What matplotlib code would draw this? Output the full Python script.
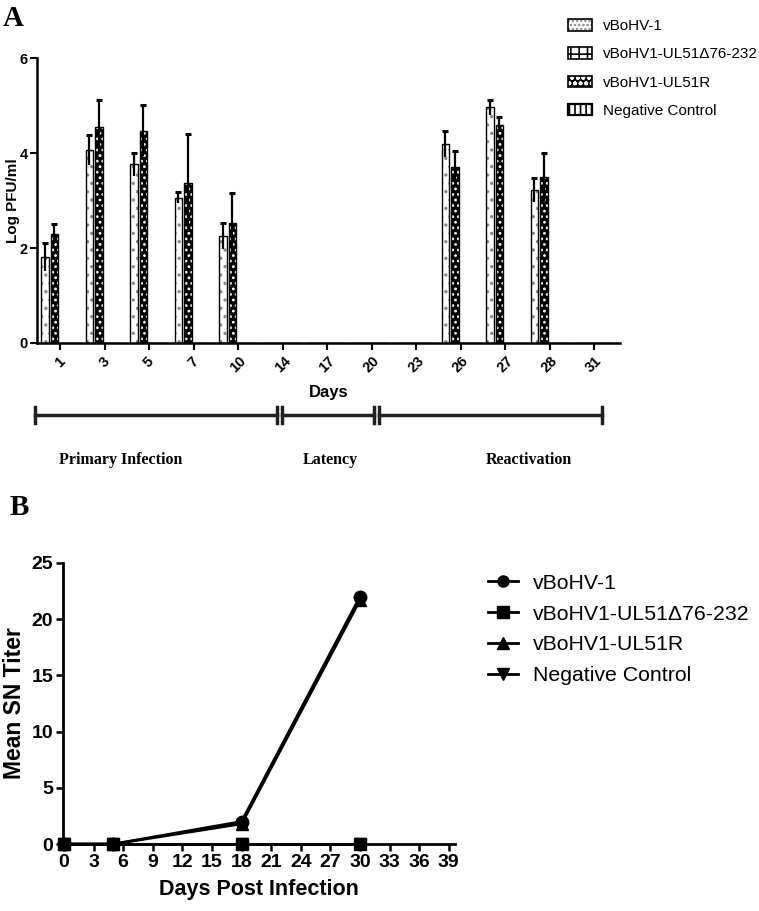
import matplotlib
matplotlib.use("Agg")
import matplotlib.pyplot as plt
import matplotlib.patches as mpatches
from matplotlib.lines import Line2D
from matplotlib.transforms import blended_transform_factory
import numpy as np

plt.rcParams['font.family'] = ['Liberation Sans', 'DejaVu Sans']
plt.rcParams['hatch.linewidth'] = 1.2

# ---- panel A data: virus titers in nasal swabs ----
days_a = ['1', '3', '5', '7', '10', '14', '17', '20', '23', '26', '27', '28', '31']
wt_mean = [1.81, 4.06, 3.76, 3.06, 2.25, 0, 0, 0, 0, 4.19, 4.96, 3.22, 0]
wt_sd = [0.30, 0.32, 0.25, 0.11, 0.27, 0, 0, 0, 0, 0.27, 0.15, 0.26, 0]
rev_mean = [2.29, 4.54, 4.47, 3.37, 2.52, 0, 0, 0, 0, 3.71, 4.60, 3.50, 0]
rev_sd = [0.21, 0.57, 0.54, 1.02, 0.63, 0, 0, 0, 0, 0.33, 0.16, 0.50, 0]
del_mean = [0] * 13
neg_mean = [0] * 13
names = ['vBoHV-1', 'vBoHV1-UL51\u039476-232', 'vBoHV1-UL51R', 'Negative Control']
phases = ['Primary Infection', 'Latency', 'Reactivation']

# ---- panel B data: neutralizing antibody ----
days_b = [0, 5, 18, 30]
sn_wt = [0, 0, 2.0, 22.0]
sn_del = [0, 0, 0, 0]
sn_rev = [0, 0, 1.8, 21.7]
sn_neg = [0, 0, 0, 0]

fig = plt.figure(figsize=(7.59, 9.11), dpi=100)

# ================= Panel A =================
ax = fig.add_axes([0.0487, 0.6235, 0.768, 0.3128])
x = np.arange(len(days_a))
w = 0.17

def pattern_bar(pos, h, face, hcol, hatch):
    ax.bar(pos, h, w, color=face, edgecolor=hcol, hatch=hatch, linewidth=0)
    ax.bar(pos, h, w, fill=False, edgecolor='black', linewidth=1.0)

pattern_bar(x - 0.34, wt_mean, 'white', '#8a8a8a', '..')
pattern_bar(x - 0.13, rev_mean, 'black', 'white', '...')
pattern_bar(x + 0.08, del_mean, 'white', 'black', '+')
pattern_bar(x + 0.29, neg_mean, 'white', 'black', '||')

for off, m, s in [(-0.34, wt_mean, wt_sd), (-0.13, rev_mean, rev_sd)]:
    m = np.array(m)
    s = np.array(s)
    k = m > 0
    ax.vlines(x[k] + off, m[k] - s[k], m[k] + s[k], color='black', lw=1.6)
    ax.plot(x[k] + off, m[k] + s[k], ls='none', marker='_', ms=5, mew=2.2, color='black')

ax.set_xlim(-0.52, 12.58)
ax.set_ylim(0, 6)
ax.set_yticks([0, 2, 4, 6])
ax.set_xticks(x)
ax.set_xticklabels(days_a, rotation=45, ha='center', va='top', fontsize=10.5,
                   fontweight='bold')
for lab in ax.get_yticklabels():
    lab.set_fontweight('bold')
    lab.set_fontsize(10.5)
ax.tick_params(axis='y', direction='out', length=5, width=1.5, pad=1.5)
ax.tick_params(axis='x', direction='out', length=5, width=1.5, pad=3)
for sp in ['top', 'right']:
    ax.spines[sp].set_visible(False)
for sp in ['left', 'bottom']:
    ax.spines[sp].set_linewidth(1.8)
ax.set_ylabel('Log PFU/ml', fontsize=11, fontweight='bold')
ax.yaxis.set_label_coords(-0.029, 0.5)
ax.set_xlabel('Days', fontsize=12, fontweight='bold', labelpad=7)

# phase brackets under the axis
tr = blended_transform_factory(ax.transData, fig.transFigure)
yb = 0.5445
cap = 0.0088
spans = [(-0.56, 4.88), (4.99, 7.06), (7.17, 12.18)]
for a, b in spans:
    ax.plot([a, b], [yb, yb], color='#222222', lw=2.5, transform=tr, clip_on=False)
    for e in (a, b):
        ax.plot([e, e], [yb - cap, yb + cap], color='#222222', lw=2.5,
                transform=tr, clip_on=False)
for lab, px in zip(phases, [1.37, 6.07, 10.54]):
    ax.text(px, 0.495, lab, transform=tr, ha='center', va='center',
            fontsize=11.5, fontweight='bold', family='Liberation Serif')

handles = [
    (mpatches.Patch(facecolor='white', edgecolor='#8a8a8a', hatch='....', lw=0),
     mpatches.Patch(fill=False, edgecolor='black', lw=1.2)),
    (mpatches.Patch(facecolor='white', edgecolor='black', hatch='++', lw=0),
     mpatches.Patch(fill=False, edgecolor='black', lw=1.2)),
    (mpatches.Patch(facecolor='black', edgecolor='white', hatch='ooo', lw=0),
     mpatches.Patch(fill=False, edgecolor='black', lw=1.2)),
    (mpatches.Patch(facecolor='white', edgecolor='black', hatch='|||', lw=0),
     mpatches.Patch(fill=False, edgecolor='black', lw=1.6)),
]
fig.legend(handles, names, loc='upper left', bbox_to_anchor=(0.748, 0.979),
           frameon=False, fontsize=11, handlelength=1.6, handleheight=0.8,
           handletextpad=0.7, labelspacing=0.92, borderpad=0, borderaxespad=0)

fig.text(0.004, 0.995, 'A', fontsize=21, fontweight='bold',
         family='Liberation Serif', va='top', ha='left')

# ================= Panel B =================
bx = fig.add_axes([0.083, 0.0735, 0.516, 0.3085])
bx.plot(days_b, sn_neg, color='black', lw=2, marker='v', ms=8, clip_on=False)
bx.plot(days_b, sn_rev, color='black', lw=2, marker='^', ms=8, clip_on=False)
bx.plot(days_b, sn_del, color='black', lw=2, marker='s', ms=8, clip_on=False)
bx.plot(days_b, sn_wt, color='black', lw=2, marker='o', ms=9, clip_on=False)

bx.set_xlim(-0.1, 39.6)
bx.set_ylim(0, 25)
bx.set_xticks(np.arange(0, 40, 3))
bx.set_yticks([0, 5, 10, 15, 20, 25])
for lab in bx.get_xticklabels() + bx.get_yticklabels():
    lab.set_fontweight('bold')
    lab.set_fontsize(14)
bx.tick_params(axis='both', direction='out', length=5, width=1.8, pad=2)
for sp in ['top', 'right']:
    bx.spines[sp].set_visible(False)
for sp in ['left', 'bottom']:
    bx.spines[sp].set_linewidth(2)
bx.set_ylabel('Mean SN Titer', fontsize=16.5, fontweight='bold', labelpad=4)
bx.set_xlabel('Days Post Infection', fontsize=15.5, fontweight='bold', labelpad=6)

lh = [Line2D([], [], color='black', lw=2, marker=mk, ms=8)
      for mk in ['o', 's', '^', 'v']]
fig.legend(lh, names, loc='upper left', bbox_to_anchor=(0.643, 0.370),
           frameon=False, fontsize=15.3, handlelength=1.4,
           handletextpad=0.7, labelspacing=0.55, borderpad=0, borderaxespad=0)

fig.text(0.012, 0.458, 'B', fontsize=21, fontweight='bold',
         family='Liberation Serif', va='top', ha='left')

fig.savefig('out.png', dpi=100)
